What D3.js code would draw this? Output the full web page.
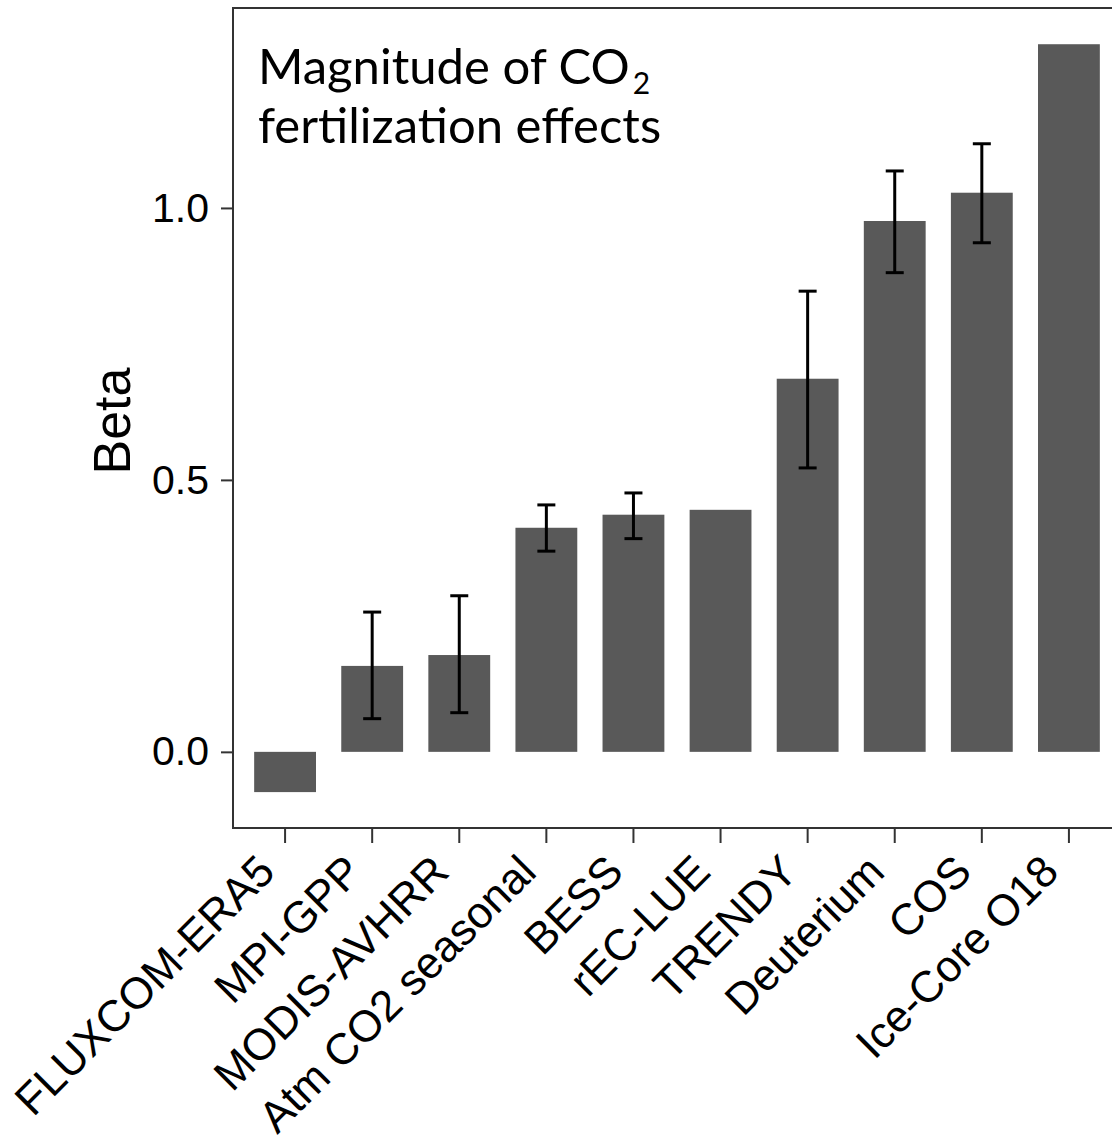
<!DOCTYPE html>
<html>
<head>
<meta charset="utf-8">
<script src="https://cdn.jsdelivr.net/npm/d3@7"></script>
<style>
  html, body { margin: 0; padding: 0; background: #fff; }
  svg { display: block; }
</style>
</head>
<body>
<div id="chart"></div>
<script>
// Data
const categories = [
  "FLUXCOM-ERA5", "MPI-GPP", "MODIS-AVHRR", "Atm CO2 seasonal", "BESS",
  "rEC-LUE", "TRENDY", "Deuterium", "COS", "Ice-Core O18",
];
const betaValues = [-0.074, 0.158, 0.178, 0.412, 0.436, 0.445, 0.686, 0.976, 1.028, 1.301];
// null = no error bar drawn
const errLow  = [null, 0.061, 0.072, 0.369, 0.392, null, 0.522, 0.881, 0.936, null];
const errHigh = [null, 0.257, 0.287, 0.454, 0.476, null, 0.847, 1.068, 1.118, null];
const yTicks = [0, 0.5, 1.0];

const width = 1112;
const height = 1135;

// Panel box (right edge runs past the picture)
const marginLeft = 233;
const panelRight = 1121;
const marginTop = 8;
const panelBottom = 828;

const svg = d3
  .select("#chart")
  .append("svg")
  .attr("width", width)
  .attr("height", height)
  .attr("viewBox", [0, 0, width, height]);

const x = d3
  .scaleBand()
  .domain(categories)
  .range([marginLeft, panelRight])
  .paddingInner(0.29)
  .paddingOuter(0.243);

const y = d3
  .scaleLinear()
  .domain([-0.14, 1.3676])
  .range([panelBottom, marginTop]);

const data = categories.map((c, i) => ({
  name: c,
  value: betaValues[i],
  lo: errLow[i],
  hi: errHigh[i],
}));

// Bars
svg
  .append("g")
  .selectAll("rect")
  .data(data)
  .join("rect")
  .attr("x", (d) => x(d.name))
  .attr("width", x.bandwidth())
  .attr("y", (d) => y(Math.max(0, d.value)))
  .attr("height", (d) => Math.abs(y(d.value) - y(0)))
  .attr("fill", "#595959");

// Error bars
const eb = svg
  .append("g")
  .attr("stroke", "#000")
  .attr("stroke-width", 3)
  .selectAll("g")
  .data(data.filter((d) => d.lo !== null))
  .join("g")
  .attr("transform", (d) => `translate(${x(d.name) + x.bandwidth() / 2},0)`);

eb.append("line")
  .attr("y1", (d) => y(d.lo))
  .attr("y2", (d) => y(d.hi));
eb.append("line")
  .attr("x1", -9).attr("x2", 9)
  .attr("y1", (d) => y(d.hi))
  .attr("y2", (d) => y(d.hi));
eb.append("line")
  .attr("x1", -9).attr("x2", 9)
  .attr("y1", (d) => y(d.lo))
  .attr("y2", (d) => y(d.lo));

// Panel border
svg
  .append("rect")
  .attr("x", marginLeft)
  .attr("y", marginTop)
  .attr("width", panelRight - marginLeft)
  .attr("height", panelBottom - marginTop)
  .attr("fill", "none")
  .attr("stroke", "#333")
  .attr("stroke-width", 2);

// Y axis
svg
  .append("g")
  .attr("transform", `translate(${marginLeft},0)`)
  .call(
    d3.axisLeft(y)
      .tickValues(yTicks)
      .tickFormat(d3.format(".1f"))
      .tickSize(12)
      .tickPadding(12),
  )
  .call((g) => g.select(".domain").remove())
  .call((g) => g.selectAll(".tick line").attr("stroke", "#333").attr("stroke-width", 2))
  .call((g) =>
    g.selectAll(".tick text")
      .attr("font-family", "Liberation Sans, Arial, sans-serif")
      .attr("font-size", 41)
      .attr("fill", "#000"),
  );

// X axis
svg
  .append("g")
  .attr("transform", `translate(0,${panelBottom})`)
  .call(d3.axisBottom(x).tickSize(15).tickSizeOuter(0))
  .call((g) => g.select(".domain").remove())
  .call((g) => g.selectAll(".tick line").attr("stroke", "#333").attr("stroke-width", 2))
  .call((g) =>
    g.selectAll(".tick text")
      .attr("font-family", "Liberation Sans, Arial, sans-serif")
      .attr("font-size", 44)
      .attr("fill", "#000")
      .attr("text-anchor", "end")
      .attr("dy", null)
      .attr("y", null)
      .attr("transform", "translate(-8,46) rotate(-45)"),
  );

// Y label
svg
  .append("text")
  .attr("transform", `translate(130,421) rotate(-90)`)
  .attr("text-anchor", "middle")
  .attr("font-family", "Liberation Sans, Arial, sans-serif")
  .attr("font-size", 52)
  .attr("fill", "#000")
  .text("Beta");

// Title inside the panel
const title = svg
  .append("text")
  .attr("font-family", "Lato, Carlito, sans-serif")
  .attr("font-size", 49)
  .attr("fill", "#000");

const line1 = title.append("tspan").attr("x", 258).attr("y", 84);
line1.append("tspan").text("Magnitude of CO");
line1.append("tspan").attr("font-size", 30).attr("dx", 3).attr("dy", 10).text("2");

svg
  .append("text")
  .attr("x", 258)
  .attr("y", 143)
  .attr("font-family", "Lato, Carlito, sans-serif")
  .attr("font-size", 49)
  .attr("fill", "#000")
  .text("fertilization effects");
</script>
</body>
</html>
